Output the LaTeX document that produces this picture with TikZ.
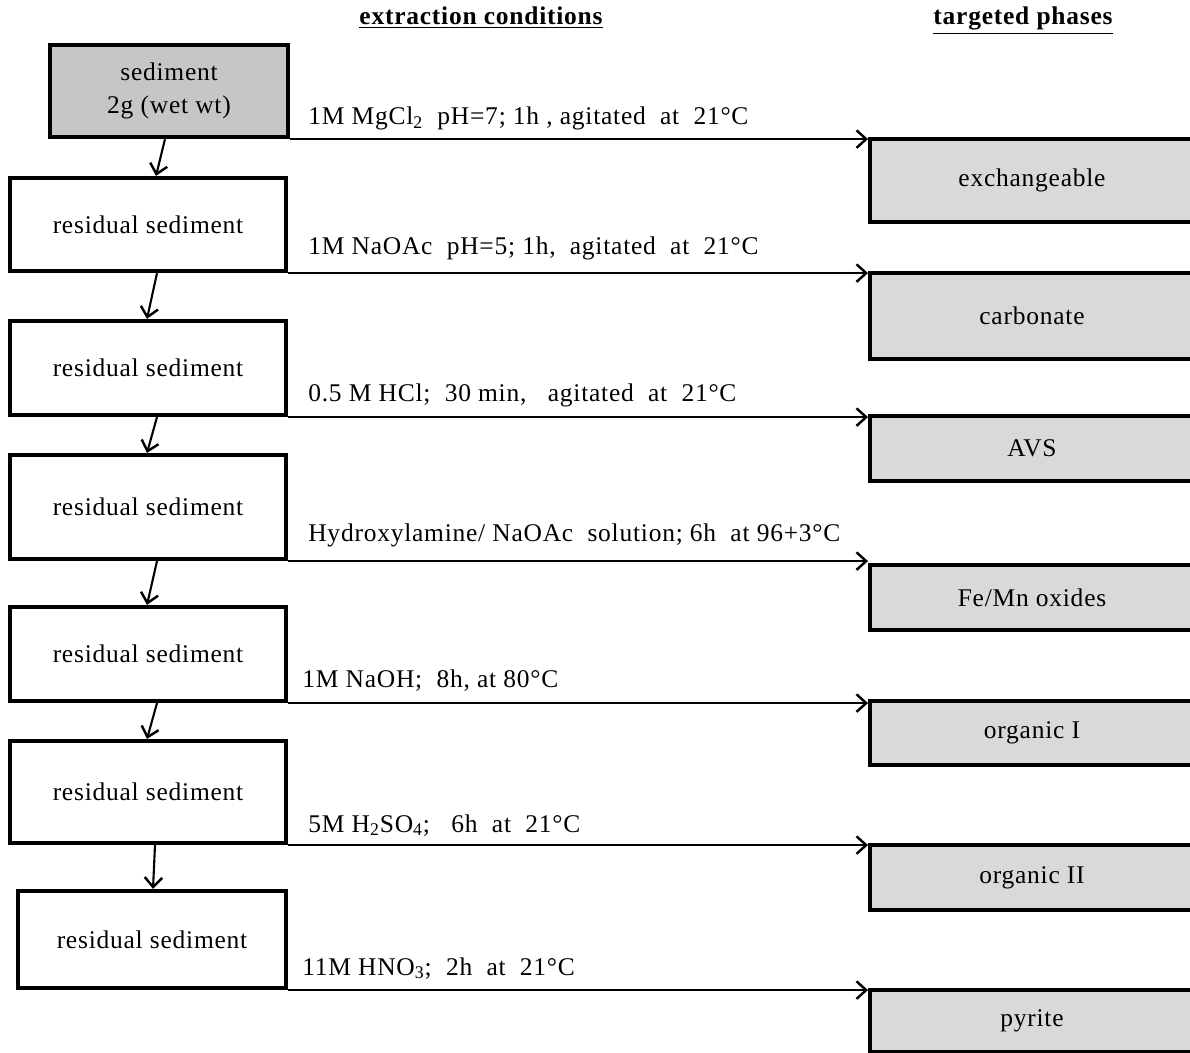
\documentclass[tikz,border=0pt]{standalone}
\usepackage{fontspec}
\setmainfont{Liberation Serif}[LetterSpace=3]
\usetikzlibrary{arrows.meta,calc}
\definecolor{ink}{HTML}{000000}
\definecolor{sedgrey}{HTML}{C6C6C6}
\definecolor{phasegrey}{HTML}{D9D9D9}

\begin{document}
\begin{tikzpicture}[x=0.02cm,y=-0.02cm,font=\fontsize{14.5}{19}\selectfont,
    resbox/.style={draw=ink,line width=2.4pt,minimum width=5.52cm,inner sep=0pt,align=center},
    phasebox/.style={draw=ink,fill=phasegrey,line width=2.3pt,minimum width=6.48cm,
      anchor=north west,inner sep=0pt},
    flow/.style={ink,line width=1.2pt,-{Straight Barb[length=5.5pt,width=10pt,line width=1.4pt]}},
    cond/.style={anchor=base west,inner sep=0pt},
    head/.style={anchor=base,inner sep=0pt,font=\fontsize{14.5}{17}\selectfont\bfseries}]
  \useasboundingbox (0,0) rectangle (1190,1053);
  % column heads
  \node[head] (hcond) at (481,25) {\underline{extraction conditions}};
  \node[head] (hphase) at (1023,25) {\underline{targeted phases}};
  % sediment and what is left of it
  \node[resbox,fill=sedgrey,minimum width=4.76cm,minimum height=1.84cm] (sed) at (169,91)
    {sediment\\2g (wet wt)};
  \node[resbox,minimum height=1.86cm] (r1) at (148,224.5) {residual sediment};
  \node[resbox,minimum height=1.88cm] (r2) at (148,368) {residual sediment};
  \node[resbox,minimum height=2.08cm] (r3) at (148,507) {residual sediment};
  \node[resbox,minimum height=1.88cm] (r4) at (148,654) {residual sediment};
  \node[resbox,minimum height=2.04cm] (r5) at (148,792) {residual sediment};
  \node[resbox,minimum width=5.36cm,minimum height=1.94cm] (r6) at (152,939.5) {residual sediment};
  % phases
  \node[phasebox,minimum height=1.66cm] (p1) at (868,137) {exchangeable};
  \node[phasebox,minimum height=1.72cm] (p2) at (868,271) {carbonate};
  \node[phasebox,minimum height=1.30cm] (p3) at (868,414) {AVS};
  \node[phasebox,minimum height=1.30cm] (p4) at (868,563) {Fe/Mn oxides};
  \node[phasebox,minimum height=1.28cm] (p5) at (868,699) {organic I};
  \node[phasebox,minimum height=1.30cm] (p6) at (868,843) {organic II};
  \node[phasebox,minimum height=1.24cm] (p7) at (868,988) {pyrite};
  % extraction conditions
  \node[cond] (c1) at (308,125) {1M MgCl\textsubscript{2}\ \ pH=7; 1h , agitated\ \ at\ \ 21°C};
  \node[cond] (c2) at (308,255) {1M NaOAc\ \ pH=5; 1h,\ \ agitated\ \ at\ \ 21°C};
  \node[cond] (c3) at (308,402) {0.5 M HCl;\ \ 30 min,\ \ \ agitated\ \ at\ \ 21°C};
  \node[cond] (c4) at (308,542) {Hydroxylamine/ NaOAc\ \ solution; 6h\ \ at 96+3°C};
  \node[cond] (c5) at (302,687) {1M NaOH;\ \ 8h, at 80°C};
  \node[cond] (c6) at (308,832) {5M H\textsubscript{2}SO\textsubscript{4};\ \ \ 6h\ \ at\ \ 21°C};
  \node[cond] (c7) at (302,975) {11M HNO\textsubscript{3};\ \ 2h\ \ at\ \ 21°C};
  % steps down
  \foreach \a/\b/\da/\db in {sed/r1/-4/8,r1/r2/9/-1,r2/r3/9/-1,r3/r4/9/-1,r4/r5/9/-1,r5/r6/7/1}
    \draw[flow] ($(\a.south)+(\da,0)$) -- ($(\b.north)+(\db,0)$);
  % across to the phases
  \foreach \a/\b in {sed/p1,r1/p2,r2/p3,r3/p4,r4/p5,r5/p6,r6/p7}
    \draw[flow] (\a.south east) -- (\a.south east -| \b.north west);
\end{tikzpicture}
\end{document}
